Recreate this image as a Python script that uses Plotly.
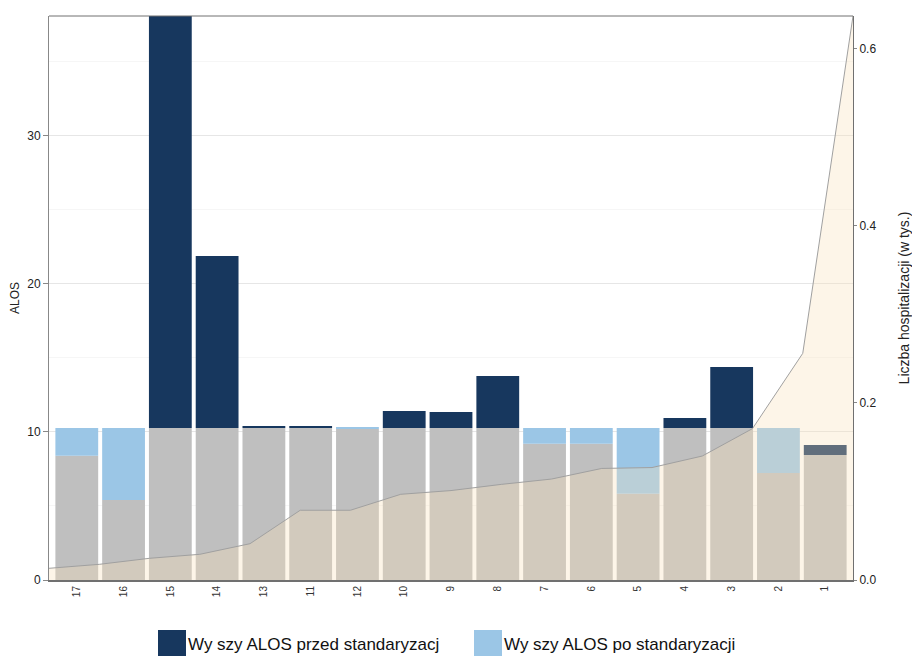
import numpy as np
import plotly.graph_objects as go

# ---- data ----
categories = ['17', '16', '15', '14', '13', '11', '12', '10', '9', '8', '7', '6', '5', '4', '3', '2', '1']
alos_przed = [8.39, 5.40, 38.06, 21.86, 10.39, 10.39, 10.19, 11.40, 11.34, 13.77, 9.20, 9.20, 5.82, 10.93, 14.37, 7.22, 9.11]
alos_po = [10.26, 10.26, 10.26, 10.26, 10.26, 10.26, 10.26, 10.26, 10.26, 10.26, 10.26, 10.26, 10.26, 10.26, 10.26, 10.26, 8.43]
hospitalizacje = [0.0132, 0.0177, 0.0245, 0.029, 0.041, 0.0788, 0.0788, 0.0968, 0.101, 0.108, 0.114,
                  0.126, 0.127, 0.140, 0.171, 0.256, 0.637]

name_przed = 'Wy szy ALOS przed standaryzacj'
name_po = 'Wy szy ALOS po standaryzacji'

# ---- styles ----
C_DARK = '#17375E'
C_LIGHT = '#9BC6E6'
C_GREY = '#BFBFBF'
FONT = 'Liberation Sans, Arial, sans-serif'

przed = np.array(alos_przed)
po = np.array(alos_po)
low = np.minimum(przed, po)
dark_h = np.where(przed > po, przed - po, 0)
light_h = np.where(po > przed, po - przed, 0)

fig = go.Figure()
fig.add_trace(go.Bar(x=categories, y=low, base=0, marker_color=C_GREY, marker_line_width=0,
                     showlegend=False, name='ALOS', hoverinfo='skip'))
fig.add_trace(go.Bar(x=categories, y=dark_h, base=po, marker_color=C_DARK, marker_line_width=0,
                     name=name_przed, showlegend=False))
fig.add_trace(go.Bar(x=categories, y=light_h, base=przed, marker_color=C_LIGHT, marker_line_width=0,
                     name=name_po, showlegend=False))
fig.add_trace(go.Scatter(x=list(range(len(hospitalizacje))), y=hospitalizacje, xaxis='x2', yaxis='y2',
                         mode='lines', line=dict(color='#a0a0a0', width=1),
                         fill='tozeroy', fillcolor='rgba(250,224,184,0.33)',
                         showlegend=False, name='Liczba hospitalizacji'))

# page offset (default body margin of the html page)
O = 8
FW, FH = 920 - O, 656 - O
L, R, T, B = 49 - O, 853 - O, 16 - O, 580 - O
W, H = R - L, B - T
def px(x):
    return (x - O - L) / W
def py(y):
    return (B - (y - O)) / H

fig.update_layout(
    width=FW, height=FH,
    margin=dict(l=L, r=FW - R, t=T, b=FH - B, autoexpand=False),
    paper_bgcolor='white', plot_bgcolor='white',
    barmode='overlay', bargap=0.085,
    font=dict(family=FONT, color='#222'),
    showlegend=False,
    xaxis=dict(type='category', categoryorder='array', categoryarray=categories,
               range=[-0.594, len(categories) - 1 + 0.594], automargin=False,
               tickangle=-90, tickfont=dict(size=10, color='#333'),
               showline=True, linecolor='#707070', linewidth=2, ticks='',
               showgrid=False, zeroline=False),
    xaxis2=dict(overlaying='x', range=[0, len(hospitalizacje) - 1], visible=False),
    yaxis=dict(range=[0, 38.06], dtick=10, tickfont=dict(size=12), ticks='outside', ticklen=5,
               tickcolor='#888', showline=True, linecolor='#888', linewidth=1, automargin=False,
               showgrid=True, gridcolor='#e6e6e6', zeroline=False,
               minor=dict(dtick=5, showgrid=True, gridcolor='#f6f6f6', ticks=''),
               title=dict(text='ALOS', font=dict(size=12), standoff=6)),
    yaxis2=dict(overlaying='y', side='right', range=[0, 0.637], dtick=0.2, tickformat='.1f',
                tickfont=dict(size=12), ticks='outside', ticklen=3, tickcolor='#888',
                showline=True, linecolor='#707070', linewidth=1, showgrid=False, zeroline=False,
                automargin=False,
                title=dict(text='Liczba hospitalizacji (w tys.)', font=dict(size=14), standoff=23)),
    shapes=[
        dict(type='line', xref='paper', yref='paper', x0=0, x1=1, y0=1, y1=1,
             line=dict(color='#707070', width=1)),
        dict(type='rect', xref='paper', yref='paper', x0=px(158), x1=px(186), y0=py(630), y1=py(656),
             fillcolor=C_DARK, line=dict(width=0)),
        dict(type='rect', xref='paper', yref='paper', x0=px(474), x1=px(502), y0=py(630), y1=py(656),
             fillcolor=C_LIGHT, line=dict(width=0)),
    ],
    annotations=[
        dict(text=name_przed, xref='paper', yref='paper', x=px(186), y=py(644), xanchor='left',
             yanchor='middle', showarrow=False, font=dict(size=17, color='#111')),
        dict(text=name_po, xref='paper', yref='paper', x=px(502), y=py(644), xanchor='left',
             yanchor='middle', showarrow=False, font=dict(size=17, color='#111')),
    ],
)

fig.write_html('out.html')
